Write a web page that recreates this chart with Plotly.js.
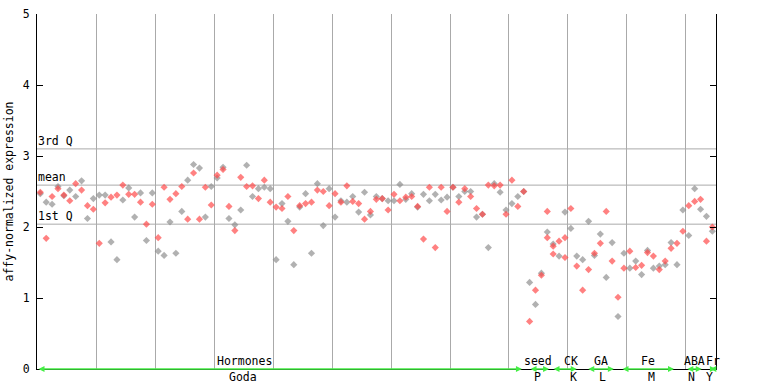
<!DOCTYPE html>
<html>
<head>
<meta charset="utf-8">
<script src="https://cdn.plot.ly/plotly-3.0.1.min.js"></script>
<style>html,body{margin:0;padding:0;background:#fff;}#chart{width:768px;height:384px;}</style>
</head>
<body>
<div id="chart"></div>
<script>
// sample positions 1..115
const samplePos = Array.from({length: 115}, (_, i) => i + 1);

// values drawn in red
const redVals = [
  2.49,1.84,2.43,2.54,2.45,2.37,2.61,2.52,2.30,2.25,
  1.77,2.34,2.42,2.45,2.59,2.46,2.46,2.35,2.04,2.32,
  1.85,2.56,2.39,2.47,2.57,2.11,2.76,2.11,2.56,2.31,
  2.73,2.81,2.29,1.95,2.70,2.57,2.58,2.40,2.66,2.35,
  2.28,2.26,2.43,1.95,2.30,2.33,2.35,2.52,2.50,2.30,
  2.47,2.35,2.58,2.36,2.33,2.11,2.22,2.39,2.40,2.24,
  2.46,2.37,2.42,2.43,2.29,1.83,2.56,1.71,2.56,2.22,
  2.56,2.35,2.54,2.43,2.26,2.18,2.59,2.58,2.59,2.18,
  2.66,2.29,2.50,0.67,1.11,1.32,2.22,1.62,1.80,1.57,
  2.26,1.45,1.11,1.40,1.63,1.77,2.22,1.52,1.01,1.42,
  1.66,1.43,1.46,1.64,1.59,1.40,1.52,1.70,1.77,1.94,
  2.30,2.36,2.39,1.80,2.00
];
// values drawn in grey
const greyVals = [
  2.47,2.35,2.32,2.57,2.44,2.52,2.43,2.65,2.12,2.40,
  2.45,2.45,1.79,1.54,2.38,2.55,2.14,2.48,1.81,2.48,
  1.66,1.60,2.07,1.63,2.22,2.66,2.88,2.83,2.14,2.57,
  2.69,2.84,2.12,2.03,2.24,2.87,2.43,2.54,2.56,2.54,
  1.54,2.33,2.08,1.47,2.28,2.47,1.63,2.61,2.02,2.54,
  2.14,2.37,2.35,2.43,2.21,2.49,2.17,2.43,2.40,2.37,
  2.37,2.60,2.39,2.47,2.28,2.46,2.37,2.46,2.38,2.42,
  2.56,2.43,2.50,2.50,2.14,2.18,1.71,2.61,2.49,2.24,
  2.33,2.43,2.50,1.22,0.91,1.35,1.93,1.76,1.59,2.21,
  1.98,1.59,1.54,2.08,1.60,1.90,1.29,1.78,0.74,1.63,
  1.42,1.52,1.33,1.67,1.42,1.45,1.47,1.78,1.47,2.24,
  1.88,2.54,2.25,2.15,1.94
];
// third replicates where present
const extraPos = [87, 88, 90];
const extraVals = [1.85, 1.73, 1.85];

// summary lines
const q1Val = 2.04, meanVal = 2.59, q3Val = 3.10;

// experiment groups (sample position ranges) and labels
const groupTop = ['Hormones','seed','CK','GA','Fe','ABA','Fr'];
const groupBottom = ['Goda','P','K','L','M','N','Y'];
const groupStart = [0.44, 83.9, 87.8, 93.7, 99.5, 110.5, 114.4];
const groupEnd   = [82.7, 87.3, 92.0, 98.3, 108.5, 113.2, 115.6];
const groupLabelTop = [35.7, 85.4, 91.0, 96.1, 104.1, 111.9, 115.1];
const groupLabelBottom = [35.4, 85.4, 91.5, 96.4, 104.6, 111.4, 114.6];

const FONT = 'DejaVu Sans Mono, monospace';
const RED = 'rgba(255,70,70,0.68)';
const GREY = 'rgba(140,140,140,0.68)';

const mk = (c) => ({symbol: 'diamond', size: 5.5, color: c, line: {width: 0}});
const traces = [
  {x: samplePos, y: greyVals, type: 'scatter', mode: 'markers', marker: mk(GREY), hoverinfo: 'y', cliponaxis: false},
  {x: samplePos, y: redVals, type: 'scatter', mode: 'markers', marker: mk(RED), hoverinfo: 'y', cliponaxis: false},
  {x: extraPos, y: extraVals, type: 'scatter', mode: 'markers', marker: mk(RED), hoverinfo: 'y', cliponaxis: false}
];

const shapes = [q3Val, meanVal, q1Val].map(v => ({
  type: 'line', xref: 'paper', x0: 0, x1: 1, yref: 'y', y0: v, y1: v,
  line: {color: '#aaaaaa', width: 1}, layer: 'below'
}));

const annotations = [];
[[q3Val,'3rd Q'],[meanVal,'mean'],[q1Val,'1st Q']].forEach(([v,t]) => {
  annotations.push({xref: 'paper', x: 0, yref: 'y', y: v, text: t, showarrow: false,
    xanchor: 'left', yanchor: 'bottom', font: {family: FONT, size: 11.5, color: '#000'}, borderpad: 0});
});
for (let g = 0; g < groupTop.length; g++) {
  annotations.push({xref: 'x', yref: 'y', x: groupEnd[g], y: 0, axref: 'x', ayref: 'y', ax: groupStart[g], ay: 0,
    text: '', showarrow: true, arrowside: 'end+start', arrowhead: 2, arrowsize: 0.8, arrowwidth: 1.5,
    arrowcolor: '#44ee44', standoff: 0, startstandoff: 0});
  annotations.push({xref: 'x', yref: 'y', x: groupLabelTop[g], y: 0, text: groupTop[g], showarrow: false,
    xanchor: 'center', yanchor: 'bottom', font: {family: FONT, size: 11.5, color: '#000'}, borderpad: 0});
  annotations.push({xref: 'x', yref: 'y', x: groupLabelBottom[g], y: 0, text: groupBottom[g], showarrow: false,
    xanchor: 'center', yanchor: 'top', font: {family: FONT, size: 11.5, color: '#000'}, borderpad: 0});
}

const layout = {
  width: 768, height: 384,
  margin: {l: 37, r: 52, t: 14, b: 15, pad: 0},
  paper_bgcolor: '#fff', plot_bgcolor: '#fff',
  showlegend: false,
  font: {family: FONT, size: 11.5, color: '#000'},
  xaxis: {
    range: [0.44, 115.62], showticklabels: false, ticks: '',
    tick0: 10.5, dtick: 10, showgrid: true, gridcolor: '#aaaaaa', gridwidth: 1,
    zeroline: false, showline: true, linecolor: '#000', linewidth: 1, mirror: false
  },
  yaxis: {
    range: [0, 5], tickvals: [0,1,2,3,4,5], ticks: 'inside', ticklen: 6, tickcolor: '#000',
    showgrid: false, zeroline: false, showline: true, linecolor: '#000', linewidth: 1, mirror: 'ticks',
    tickfont: {family: FONT, size: 11.5}, ticklabelstandoff: 4,
    title: {text: 'affy-normalized expression', font: {family: FONT, size: 11.5}, standoff: 6}
  },
  shapes: shapes,
  annotations: annotations
};

Plotly.newPlot('chart', traces, layout, {staticPlot: true, displayModeBar: false});
</script>
</body>
</html>
